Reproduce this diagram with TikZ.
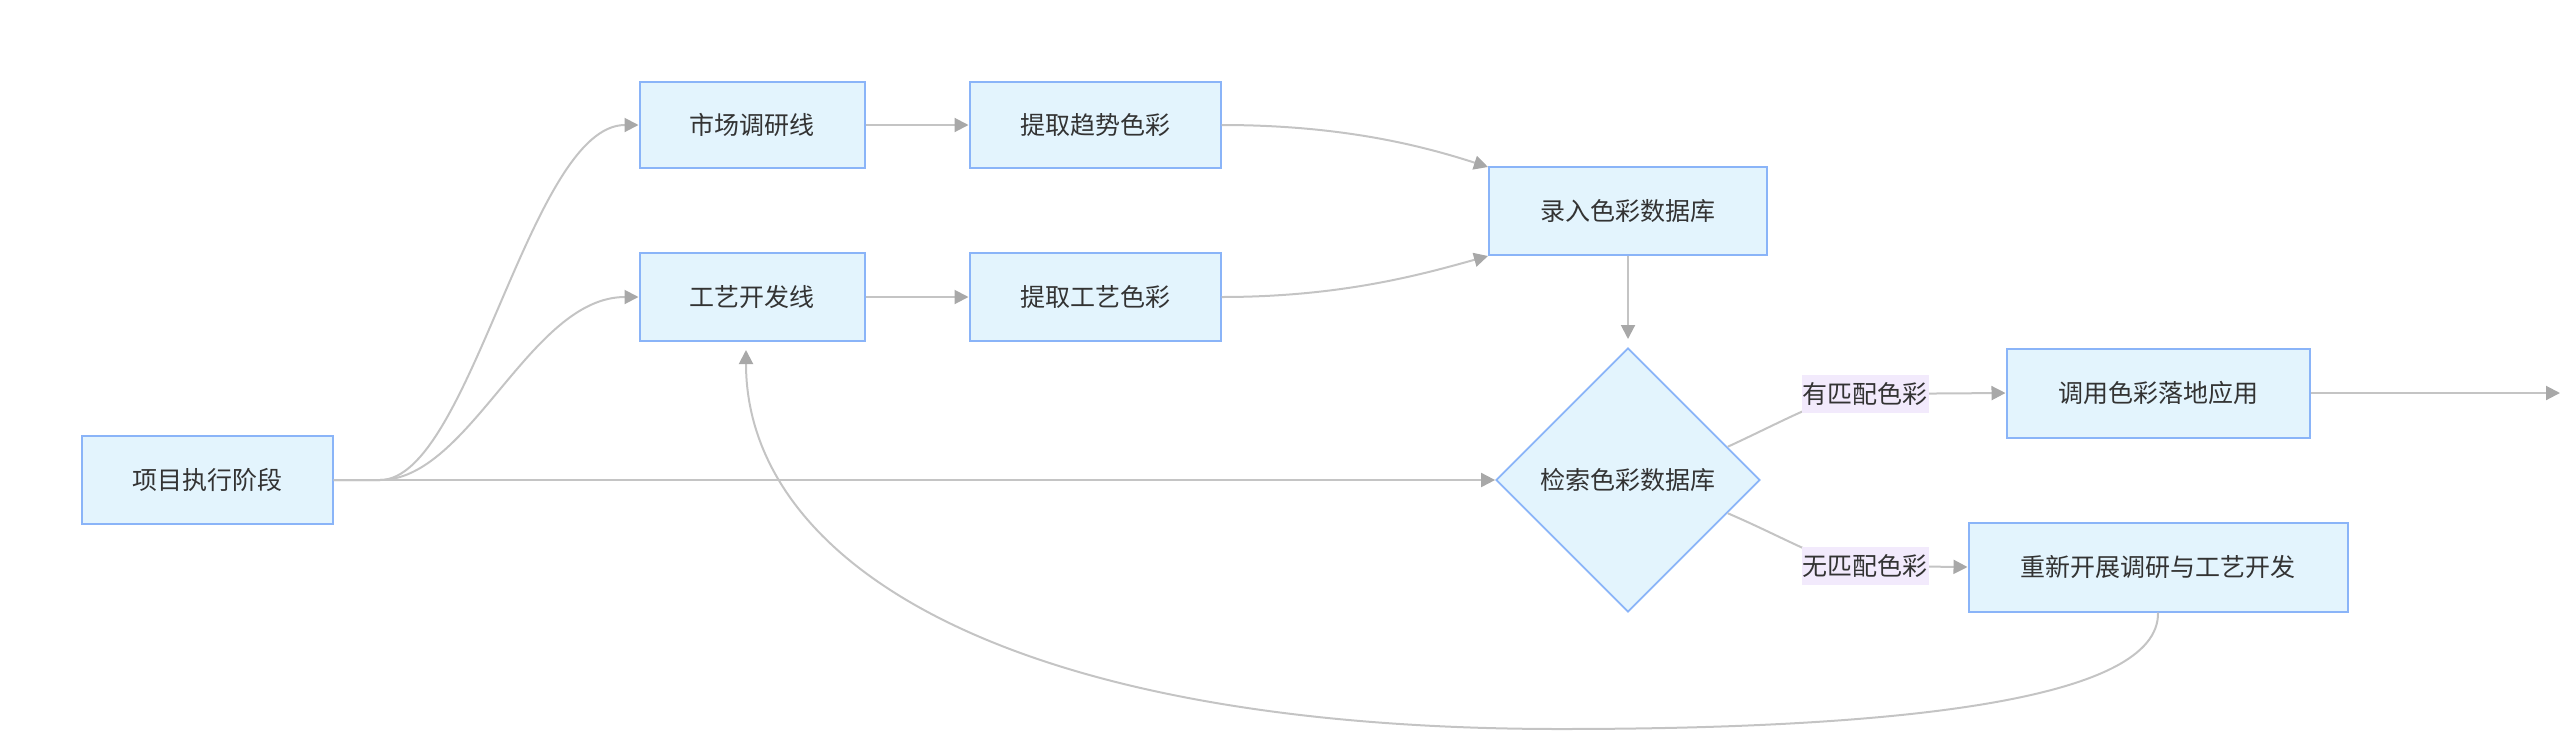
\documentclass[tikz,border=0pt]{standalone}
\usepackage{fontspec}
\setmainfont{Noto Sans CJK SC}
\usetikzlibrary{shapes.geometric,arrows.meta,calc}
\definecolor{boxfill}{HTML}{E3F4FD}
\definecolor{boxdraw}{HTML}{8AB4F8}
\definecolor{edgecol}{HTML}{C4C4C4}
\definecolor{tipcol}{HTML}{A8A8A8}
\definecolor{lblfill}{HTML}{F2EAFC}
\definecolor{txt}{HTML}{333333}
\tikzset{
  procbox/.style={draw=boxdraw,fill=boxfill,line width=2pt,text=txt,inner sep=0pt,font=\fontsize{25}{30}\selectfont},
  decbox/.style={diamond,draw=boxdraw,fill=boxfill,line width=1.8pt,text=txt,inner sep=0pt,aspect=1,minimum width=264pt,minimum height=264pt,font=\fontsize{25}{30}\selectfont},
  lbl/.style={fill=lblfill,text=txt,inner sep=0pt,minimum width=127pt,minimum height=38pt,font=\fontsize{25}{30}\selectfont},
  edge/.style={draw=edgecol,line width=2pt,-{Triangle[length=14pt,width=14pt,fill=tipcol,color=tipcol]}},
  plain/.style={draw=edgecol,line width=2pt}
}
\begin{document}
\begin{tikzpicture}[x=1pt,y=-1pt]
\useasboundingbox (0,0) rectangle (2560,732);
\node[procbox,minimum width=251pt,minimum height=88pt] (n1) at (207,480) {项目执行阶段};
\node[procbox,minimum width=225pt,minimum height=86pt] (n2) at (752,125) {市场调研线};
\node[procbox,minimum width=225pt,minimum height=88pt] (n3) at (752,297) {工艺开发线};
\node[procbox,minimum width=251pt,minimum height=86pt] (n4) at (1095,125) {提取趋势色彩};
\node[procbox,minimum width=251pt,minimum height=88pt] (n5) at (1095,297) {提取工艺色彩};
\node[procbox,minimum width=278pt,minimum height=88pt] (n6) at (1628,211) {录入色彩数据库};
\node[decbox] (n7) at (1628,480) {检索色彩数据库};
\node[procbox,minimum width=303pt,minimum height=89pt] (n8) at (2158,393) {调用色彩落地应用};
\node[procbox,minimum width=379pt,minimum height=89pt] (n9) at (2158,567) {重新开展调研与工艺开发};
\coordinate (out) at (2560,393);
\coordinate (loopend) at (746,350);
\coordinate (split) at (380,480);
\coordinate (dtop) at (1628,339);
% edges
\draw[edge] (n1.east) -- (split) .. controls (470,480) and (530,125) .. (n2.west);
\draw[edge] (n1.east) -- (split) .. controls (470,480) and (530,297) .. (n3.west);
\draw[edge] (n1.east) -- (n7.west);
\draw[edge] (n2.east) -- (n4.west);
\draw[edge] (n3.east) -- (n5.west);
\draw[edge] (n4.east) .. controls (1340,125) and (1420,145) .. (n6.north west |- 0,167);
\draw[edge] (n5.east) .. controls (1340,297) and (1420,275) .. (n6.south west);
\draw[edge] (n6.south) -- (dtop);
\draw[edge] ($(n7.east)!0.25!(n7.north)$) .. controls (1790,418) and (1830,394) .. (1865,394) -- (n8.west);
\draw[edge] ($(n7.east)!0.25!(n7.south)$) .. controls (1790,540) and (1830,566) .. (1865,566) -- (n9.west);
\draw[edge] (n8.east) -- (out);
\draw[edge] (n9.south) .. controls (2160,700) and (1900,729) .. (1560,729) .. controls (1000,729) and (746,560) .. (loopend);
% labels
\node[lbl] (l1) at (1865,394) {有匹配色彩};
\node[lbl] (l2) at (1865,566) {无匹配色彩};
\end{tikzpicture}
\end{document}
